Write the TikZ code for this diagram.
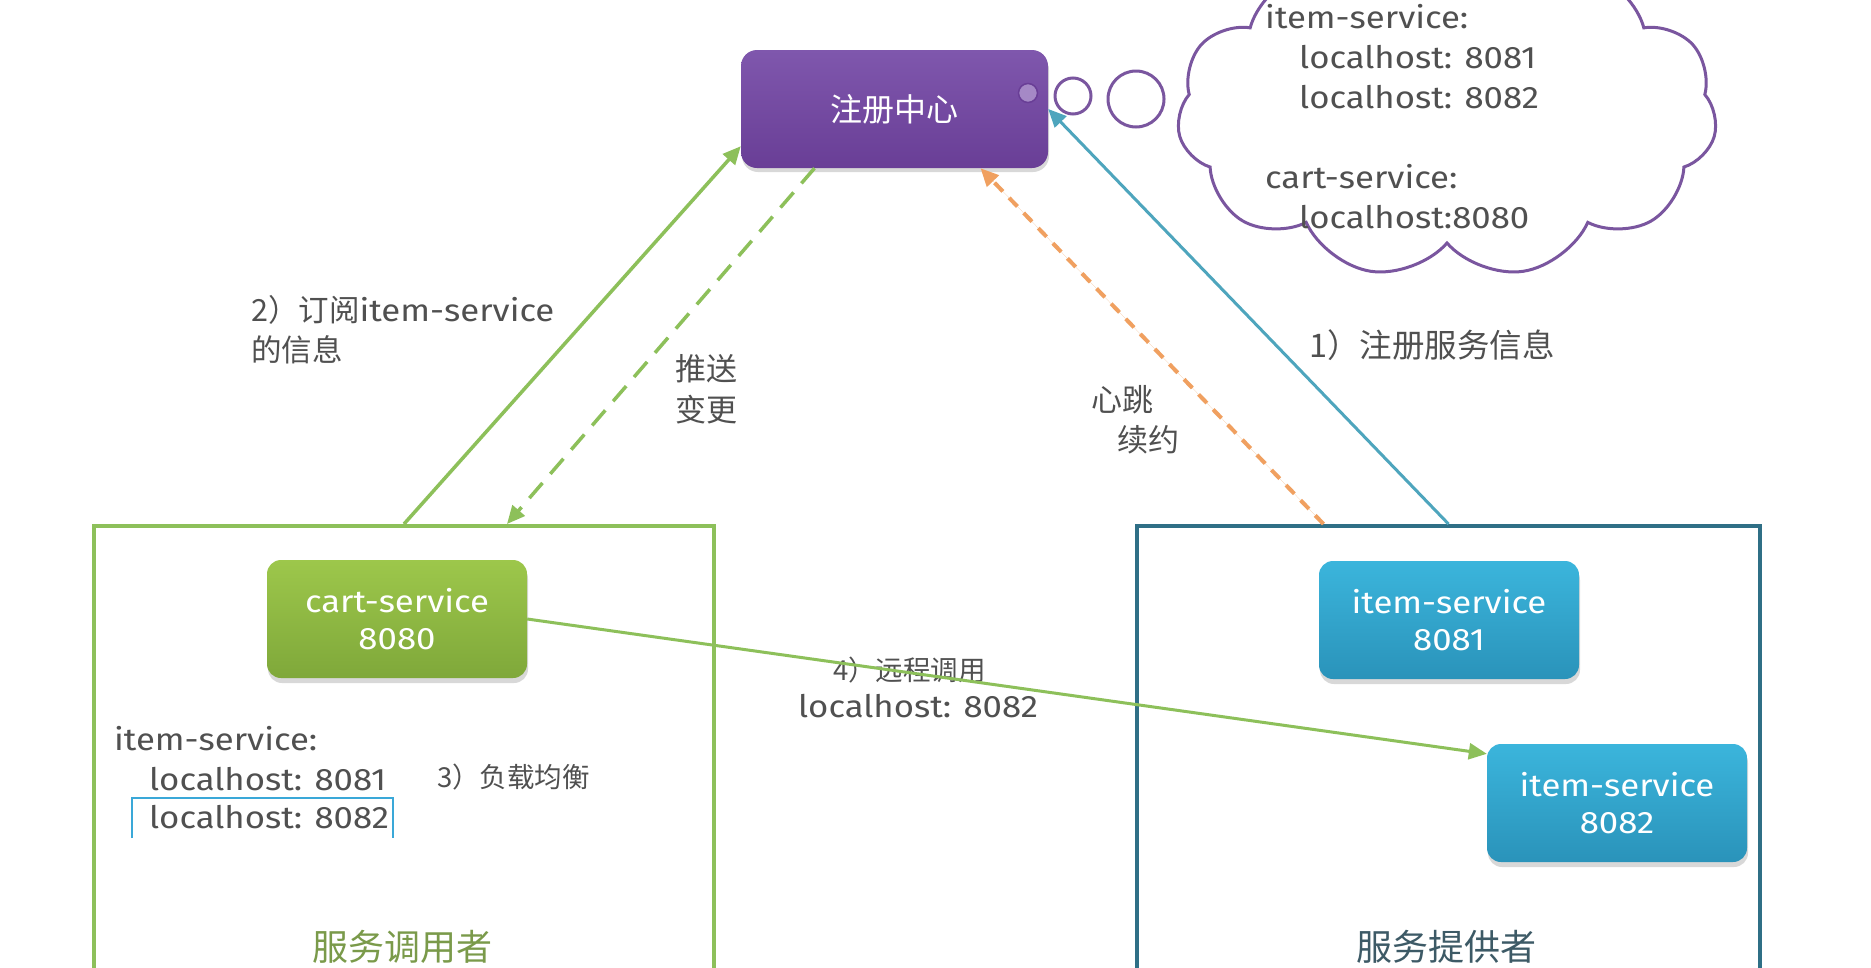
\documentclass[tikz,border=0pt]{standalone}
\usepackage{fontspec}
\setmainfont{Fira Sans}[FakeStretch=1.12]
\newfontfamily\cjk{Noto Sans CJK SC}
\usetikzlibrary{arrows.meta,shapes.symbols,shadows,calc}
\definecolor{regtop}{HTML}{7F57AD}
\definecolor{regbot}{HTML}{693E96}
\definecolor{cloudc}{HTML}{7A569F}
\definecolor{greentop}{HTML}{9DC74B}
\definecolor{greenbot}{HTML}{7FA83A}
\definecolor{bluetop}{HTML}{3BB5DC}
\definecolor{bluebot}{HTML}{2A93BA}
\definecolor{gline}{HTML}{8DC05A}
\definecolor{pline}{HTML}{2F6F86}
\definecolor{teal}{HTML}{4EA5BD}
\definecolor{orng}{HTML}{F0A060}
\definecolor{txtc}{HTML}{505050}
\definecolor{gtitle}{HTML}{7A9A4A}
\definecolor{btitle}{HTML}{3D5A66}
\definecolor{brk}{HTML}{3AA8D8}
\newcommand{\lat}{\fontsize{31}{37}\selectfont}
\begin{document}
\begin{tikzpicture}[x=1pt,y=-1pt,
  svc/.style={rounded corners=14pt, minimum width=260pt, minimum height=118pt,
    text=white, align=center, inner sep=0pt,
    font=\fontsize{31}{37}\selectfont,
    drop shadow={opacity=0.3, shadow xshift=1pt, shadow yshift=-5pt}},
  greensvc/.style={svc, top color=greentop, bottom color=greenbot},
  bluesvc/.style={svc, top color=bluetop, bottom color=bluebot},
  regbox/.style={rounded corners=16pt, minimum width=307pt, minimum height=118pt,
    top color=regtop, bottom color=regbot, text=white, inner sep=0pt,
    font=\cjk\fontsize{32}{38}\selectfont,
    drop shadow={opacity=0.3, shadow xshift=1pt, shadow yshift=-4pt}},
  bubble/.style={circle, draw=cloudc, line width=3pt, fill=white, inner sep=0pt},
  cloudsh/.style={cloud, cloud puffs=11, cloud puff arc=115, cloud ignores aspect,
    draw=cloudc, line width=3pt, minimum width=540pt, minimum height=330pt, inner sep=0pt},
  frame/.style={draw, line width=4pt, anchor=north west, inner sep=0pt},
  lbl/.style={anchor=base west, text=txtc, inner sep=0pt},
  tip/.style={-{Triangle[length=18pt,width=16pt]}},
  garrow/.style={tip, draw=gline, line width=3.5pt},
]
\useasboundingbox (0,0) rectangle (1871,967);
\clip (0,0) rectangle (1871,967);
\fill[white] (0,0) rectangle (1871,967);

% frames
\node[frame, draw=gline, minimum width=620pt, minimum height=480pt] (cbox) at (92,524) {};
\node[frame, draw=pline, minimum width=623pt, minimum height=480pt] (pbox) at (1135,524) {};

% cloud and bubbles
\node[cloudsh] (cloud) at (1447,113) {};
\node[bubble, minimum size=36pt] (b1) at (1073,96) {};
\node[bubble, minimum size=56pt] (b2) at (1136,99) {};

% registry
\node[regbox] (reg) at (894.5,109) {注册中心};
\node[circle, fill=regtop!70!white, draw=regbot, line width=1.5pt, minimum size=19pt, inner sep=0pt] (dot) at (1028,93) {};

% service nodes
\node[greensvc] (cart) at (397,619) {cart-service\\8080};
\node[bluesvc] (i1) at (1449,620) {item-service\\8081};
\node[bluesvc] (i2) at (1617,803) {item-service\\8082};

% cloud text
\node[lbl, font=\lat] (ct1) at (1265,28) {item-service:};
\node[lbl, font=\lat] (ct2) at (1299,68) {localhost: 8081};
\node[lbl, font=\lat] (ct3) at (1299,108) {localhost: 8082};
\node[lbl, font=\lat] (ct4) at (1265,188) {cart-service:};
\node[lbl, font=\lat] (ct5) at (1299,228) {localhost:8080};

% list in consumer box
\node[lbl, font=\lat] (l1) at (114,750) {item-service:};
\node[lbl, font=\lat] (l2) at (149,790) {localhost: 8081};
\node[lbl, font=\lat] (l3) at (149,828) {localhost: 8082};
\draw[brk, line width=2pt] (132,838) -- (132,798) -- (393,798) -- (393,838);
\node[lbl, font=\cjk\fontsize{27.5}{32}\selectfont] (lb3) at (437,787) {3）负载均衡};

% titles
\node[text=gtitle, font=\cjk\fontsize{36}{40}\selectfont] (t1) at (402,947) {服务调用者};
\node[text=btitle, font=\cjk\fontsize{36}{40}\selectfont] (t2) at (1446,947) {服务提供者};

% labels
\node[lbl] (lb2a) at (251,321) {{\cjk\fontsize{30.5}{36}\selectfont 2）订阅}{\lat item-service}};
\node[lbl, font=\cjk\fontsize{30.5}{36}\selectfont] (lb2b) at (251,361) {的信息};
\node[lbl, font=\cjk\fontsize{31}{36}\selectfont] (lbp1) at (675,380) {推送};
\node[lbl, font=\cjk\fontsize{31}{36}\selectfont] (lbp2) at (675,421) {变更};
\node[lbl, font=\cjk\fontsize{31}{36}\selectfont] (lbh1) at (1091,411) {心跳};
\node[lbl, font=\cjk\fontsize{31}{36}\selectfont] (lbh2) at (1117,451) {续约};
\node[lbl, font=\cjk\fontsize{32.5}{36}\selectfont] (lb1) at (1309,357) {1）注册服务信息};
\node[lbl, font=\cjk\fontsize{27.5}{32}\selectfont] (lb4a) at (833,680) {4）远程调用};
\node[lbl, font=\lat] (lb4b) at (798,717) {localhost: 8082};

% connectors
\draw[garrow] (cbox.north) -- ([yshift=22pt]reg.south west);
\draw[garrow, dash pattern=on 20pt off 12pt] ([xshift=-80pt]reg.south) -- ([xshift=103pt]cbox.north);
\draw[tip, draw=orng, fill=orng, line width=4pt, dash pattern=on 12pt off 9pt] ([xshift=-125pt]pbox.north) -- ([xshift=86pt]reg.south);
\draw[tip, draw=teal, fill=teal, line width=3pt] (pbox.north) -- (reg.east);
\draw[garrow, line width=3pt] (cart.east) -- ([yshift=-10pt]i2.north west);
\end{tikzpicture}
\end{document}
